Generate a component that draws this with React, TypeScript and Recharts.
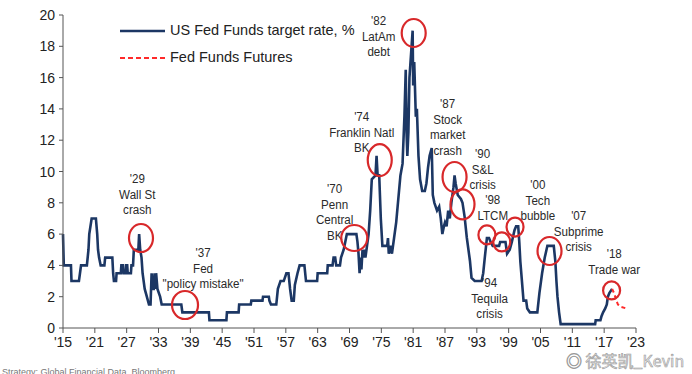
import { LineChart, Line, XAxis, YAxis, ReferenceDot, Legend } from 'recharts';

const fedYears = [
  1915.0, 1915.15, 1916.5, 1916.6, 1918.0, 1918.2, 1918.4, 1919.5, 1919.8, 1919.95,
  1920.4, 1921.2, 1921.45, 1921.6, 1921.8, 1922.1, 1922.8, 1922.95, 1924.3, 1924.45,
  1924.6, 1925.0, 1925.1, 1925.9, 1926.0, 1926.3, 1926.4, 1926.8, 1926.9, 1927.1,
  1927.2, 1927.8, 1927.9, 1928.2, 1928.35, 1929.2, 1929.35, 1929.55, 1929.8, 1930.0,
  1930.4, 1930.8, 1931.2, 1931.5, 1931.7, 1931.9, 1932.1, 1932.25, 1932.45, 1932.55,
  1932.8, 1933.3, 1933.6, 1937.3, 1937.5, 1942.5, 1942.6, 1945.8, 1945.9, 1948.1,
  1948.2, 1950.4, 1950.5, 1952.6, 1952.7, 1953.8, 1953.9, 1954.2, 1955.2, 1955.5,
  1956.0, 1956.6, 1957.1, 1957.5, 1957.8, 1958.1, 1958.5, 1958.7, 1959.2, 1959.6,
  1960.5, 1960.8, 1962.9, 1963.0, 1964.8, 1964.9, 1965.8, 1966.0, 1966.3, 1966.5,
  1967.2, 1967.4, 1967.9, 1968.2, 1968.5, 1970.3, 1970.5, 1970.7, 1970.9, 1971.1,
  1971.25, 1971.45, 1971.6, 1971.8, 1972.0, 1972.3, 1972.6, 1972.9, 1973.2, 1973.9,
  1974.1, 1974.3, 1974.6, 1974.9, 1975.2, 1976.1, 1976.25, 1976.4, 1976.7, 1977.0,
  1977.4, 1977.8, 1978.2, 1978.6, 1979.0, 1979.35, 1979.6, 1979.75, 1979.9, 1980.1,
  1980.3, 1980.6, 1980.9, 1981.0, 1981.2, 1981.5, 1981.7, 1982.0, 1982.3, 1982.7,
  1983.2, 1983.5, 1983.8, 1984.1, 1984.5, 1984.7, 1985.0, 1985.5, 1985.9, 1986.2,
  1986.5, 1986.8, 1987.0, 1987.3, 1987.6, 1987.9, 1988.2, 1988.6, 1988.8, 1989.0,
  1989.4, 1990.0, 1990.3, 1990.7, 1991.1, 1991.7, 1992.0, 1992.6, 1993.9, 1994.2,
  1994.5, 1994.9, 1995.3, 1995.6, 1996.0, 1997.2, 1997.4, 1998.4, 1998.7, 1999.2,
  1999.6, 2000.1, 2000.4, 2000.8, 2001.0, 2001.2, 2001.5, 2001.8, 2002.3, 2002.5,
  2003.0, 2004.4, 2004.8, 2005.3, 2005.8, 2006.3, 2007.5, 2007.8, 2008.0, 2008.2,
  2008.5, 2008.8, 2015.3, 2015.4, 2016.3, 2016.5, 2016.8, 2017.2, 2017.5, 2017.7,
  2018.0, 2018.5,
];

const fedRates = [
  6, 4, 4, 3, 3, 3.5, 4, 4, 5, 6,
  7, 7, 6, 5, 4.5, 4, 4, 4.5, 4.5, 3.5,
  3, 3, 3.5, 3.5, 4, 4, 3.5, 3.5, 4, 4,
  3.5, 3.5, 4, 4, 5, 5, 6, 5, 4.5, 3.5,
  2.5, 2, 1.5, 1.5, 3.5, 2.5, 2.5, 3.5, 2.5, 3.5,
  2.5, 2, 1.5, 1.5, 1, 1, 0.5, 0.5, 1, 1,
  1.5, 1.5, 1.75, 1.75, 2, 2, 1.75, 1.5, 1.5, 2.5,
  3, 3, 3.5, 3.5, 2.5, 1.75, 1.75, 2.75, 3.5, 4,
  4, 3, 3, 3.5, 3.5, 4, 4, 4.5, 4.5, 4,
  4, 4.5, 5, 5.5, 6, 6, 5.5, 4.75, 3.5, 4.5,
  3.75, 5, 4.5, 5, 4.5, 5.25, 6, 7.5, 9.5, 9.75,
  11, 9.75, 9.75, 7, 5.25, 5.25, 5.75, 4.75, 5.25, 4.75,
  5.75, 6.75, 8.25, 9.75, 10.5, 13.5, 16.5, 12.5, 11, 12.5,
  16, 17.5, 19, 15.5, 17, 13.5, 14, 11, 9.5, 8.75,
  8.75, 9.25, 10.25, 11, 11.5, 8.5, 8, 7.5, 7.75, 7,
  6, 6.5, 6.75, 6.5, 7.5, 7, 8, 9, 9.75, 9.25,
  8.5, 8.25, 8, 7.1, 5.8, 4.3, 3.2, 3, 3, 3.5,
  4.5, 5.75, 5.75, 5.5, 5.25, 5.25, 5.5, 5.5, 4.75, 5,
  5.5, 6.25, 6.5, 6.5, 5.5, 4.25, 3, 1.75, 1.75, 1.25,
  1, 1, 2.25, 3.5, 4.5, 5.25, 5.25, 4.25, 3, 2,
  1, 0.25, 0.25, 0.5, 0.5, 0.75, 1, 1.25, 1.5, 2,
  2.25, 2.5,
];

const futuresYears = [2018.5, 2018.9, 2019.3, 2019.6, 2020.2, 2021.2];
const futuresRates = [2.5, 2.2, 1.75, 1.5, 1.35, 1.25];

const xTicks = [1915, 1921, 1927, 1933, 1939, 1945, 1951, 1957, 1963, 1969, 1975, 1981, 1987, 1993, 1999, 2005, 2011, 2017, 2023];
const yTicks = [0, 2, 4, 6, 8, 10, 12, 14, 16, 18, 20];

const seriesNames = ['US Fed Funds target rate, %', 'Fed Funds Futures'];

// event labels: anchor is the centre of the first text line
const events = [
  { x: 1929.0, y: 9.58, lines: ["'29", 'Wall St', 'crash'] },
  { x: 1941.4, y: 4.86, lines: ["'37", 'Fed', '"policy mistake"'] },
  { x: 1966.2, y: 8.95, lines: ["'70", 'Penn', 'Central', 'BK'] },
  { x: 1971.3, y: 13.55, lines: ["'74", 'Franklin Natl', 'BK'] },
  { x: 1974.5, y: 19.68, lines: ["'82", 'LatAm', 'debt'] },
  { x: 1987.5, y: 14.38, lines: ["'87", 'Stock', 'market', 'crash'] },
  { x: 1994.1, y: 11.18, lines: ["'90", 'S&L', 'crisis'] },
  { x: 1996.0, y: 8.24, lines: ["'98", 'LTCM'] },
  { x: 2004.5, y: 9.2, lines: ["'00", 'Tech', 'bubble'] },
  { x: 1995.4, y: 2.94, lines: ["'94", 'Tequila', 'crisis'] },
  { x: 2012.2, y: 7.22, lines: ["'07", 'Subprime', 'crisis'] },
  { x: 2018.9, y: 4.79, lines: ["'18", 'Trade war'] },
];

const rings = [
  { x: 1929.7, y: 5.75, rx: 12, ry: 14 },
  { x: 1938.0, y: 1.47, rx: 13, ry: 14 },
  { x: 1969.9, y: 5.75, rx: 13, ry: 13 },
  { x: 1974.7, y: 10.73, rx: 12, ry: 16 },
  { x: 1981.1, y: 18.85, rx: 12, ry: 14 },
  { x: 1988.8, y: 9.65, rx: 12, ry: 15 },
  { x: 1990.3, y: 7.9, rx: 12, ry: 15 },
  { x: 1994.9, y: 5.95, rx: 8.5, ry: 9.5 },
  { x: 1997.7, y: 5.5, rx: 8.5, ry: 9.5 },
  { x: 2000.2, y: 6.45, rx: 8.5, ry: 9.5 },
  { x: 2006.7, y: 4.92, rx: 12, ry: 14 },
  { x: 2018.4, y: 2.4, rx: 8.5, ry: 9 },
];

const fedData = fedYears.map((year, i) => ({ year, rate: fedRates[i] }));
const futuresData = futuresYears.map((year, i) => ({ year, rate: futuresRates[i] }));

const FONT = '"Liberation Sans Narrow", "Arial Narrow", "Liberation Sans", Arial, sans-serif';
const NAVY = '#1c3764';
const RED = '#d8282a';

function EventText(props: any) {
  const { cx, cy, lines } = props;
  // the source uses a condensed face, so squeeze the labels a little
  return (
    <g transform={`translate(${cx} ${cy}) scale(0.86 1)`}>
      <text x={0} y={0} textAnchor="middle" style={{ fontFamily: FONT, fontSize: 13.5 }} fill="#2a2a2a">
        {lines.map((l: string, i: number) => (
          <tspan key={i} x={0} dy={i === 0 ? 5 : 15.7}>{l}</tspan>
        ))}
      </text>
    </g>
  );
}

function Ring(props: any) {
  const { cx, cy, rx, ry } = props;
  return <ellipse cx={cx} cy={cy} rx={rx} ry={ry} fill="none" stroke={RED} strokeWidth={2.2} />;
}

function XTick(props: any) {
  const { x, y, payload } = props;
  return (
    <text x={x} y={y + 12} textAnchor="middle" fill="#222" style={{ fontFamily: FONT, fontSize: 14 }}>
      {"'" + String(payload.value).slice(2)}
    </text>
  );
}

function YTick(props: any) {
  const { x, y, payload } = props;
  return (
    <text x={x - 2} y={y + 5} textAnchor="end" fill="#222" style={{ fontFamily: FONT, fontSize: 14 }}>
      {payload.value}
    </text>
  );
}

function LegendBox() {
  return (
    <div style={{ fontFamily: FONT, fontSize: 14.5, color: '#222', lineHeight: '27px' }}>
      <div style={{ display: 'flex', alignItems: 'center' }}>
        <svg width={50} height={10}><line x1={0} y1={5} x2={45} y2={5} stroke={NAVY} strokeWidth={2.5} /></svg>
        <span>{seriesNames[0]}</span>
      </div>
      <div style={{ display: 'flex', alignItems: 'center' }}>
        <svg width={50} height={10}><line x1={0} y1={5} x2={45} y2={5} stroke="#ff2a2a" strokeWidth={2} strokeDasharray="5 3" /></svg>
        <span>{seriesNames[1]}</span>
      </div>
    </div>
  );
}

export default function App() {
  return (
    <div style={{ position: 'absolute', left: 0, top: 0, width: 692, height: 374, background: '#fff', overflow: 'hidden' }}>
      <LineChart width={692} height={374} margin={{ top: 15, right: 56, bottom: 16, left: 23 }}>
        <XAxis
          dataKey="year"
          type="number"
          domain={[1915, 2023]}
          ticks={xTicks}
          interval={0}
          allowDuplicatedCategory={false}
          height={30}
          stroke="#555"
          tickSize={5}
          tick={<XTick />}
        />
        <YAxis
          type="number"
          domain={[0, 20]}
          ticks={yTicks}
          interval={0}
          width={40}
          stroke="#555"
          tickSize={4}
          tick={<YTick />}
        />
        <Legend
          layout="vertical"
          align="center"
          verticalAlign="middle"
          content={() => <LegendBox />}
          wrapperStyle={{ top: 17, left: 120, width: 260 }}
        />
        <Line data={fedData} dataKey="rate" name={seriesNames[0]} type="linear" stroke={NAVY} strokeWidth={2.6} dot={false} isAnimationActive={false} />
        <Line data={futuresData} dataKey="rate" name={seriesNames[1]} type="linear" stroke="#ff2a2a" strokeWidth={2} strokeDasharray="4 3" dot={false} isAnimationActive={false} />
        {events.map((e, i) => (
          <ReferenceDot key={'e' + i} x={e.x} y={e.y} r={0} shape={(p: any) => <EventText {...p} lines={e.lines} />} />
        ))}
        {rings.map((c, i) => (
          <ReferenceDot key={'c' + i} x={c.x} y={c.y} r={0} shape={(p: any) => <Ring {...p} rx={c.rx} ry={c.ry} />} />
        ))}
      </LineChart>
      <div style={{ position: 'absolute', left: 2, top: 367, fontFamily: FONT, fontSize: 9, color: '#777', whiteSpace: 'nowrap' }}>
        Strategy: Global Financial Data, Bloomberg
      </div>
      <div style={{ position: 'absolute', left: 566, top: 348, fontFamily: '"Noto Sans CJK SC", sans-serif', fontSize: 16, color: '#eeeeee', WebkitTextStroke: '0.6px #9a9a9a', whiteSpace: 'nowrap' }}>
        ◎ 徐英凯_Kevin
      </div>
    </div>
  );
}
